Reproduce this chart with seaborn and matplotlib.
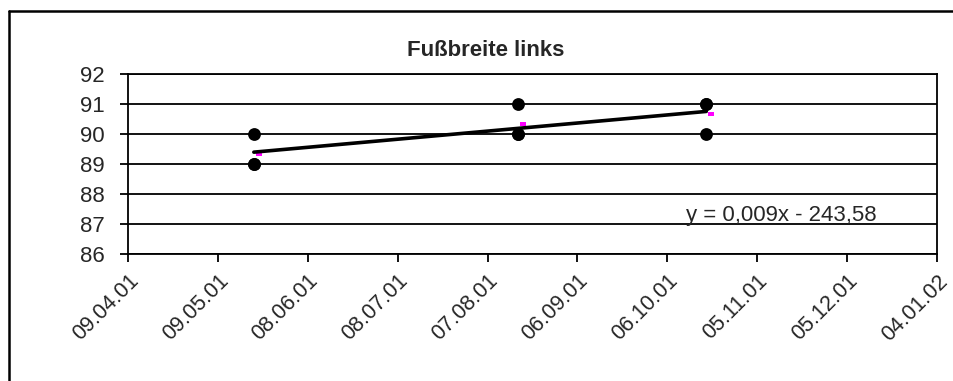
import matplotlib
matplotlib.use("Agg")
import matplotlib.pyplot as plt
import matplotlib.dates as mdates
from matplotlib.lines import Line2D
import numpy as np
import pandas as pd
import seaborn as sns

# ---- data ----
title = "Fußbreite links"
measure_dates = ["2001-05-21", "2001-05-21", "2001-05-21",
                 "2001-08-17", "2001-08-17", "2001-08-17",
                 "2001-10-19", "2001-10-19", "2001-10-19"]
values = [90, 89, 89, 91, 90, 90, 91, 91, 90]
tick_dates = ["2001-04-09", "2001-05-09", "2001-06-08", "2001-07-08", "2001-08-07",
              "2001-09-06", "2001-10-06", "2001-11-05", "2001-12-05", "2002-01-04"]
tick_labels = ["09.04.01", "09.05.01", "08.06.01", "08.07.01", "07.08.01",
               "06.09.01", "06.10.01", "05.11.01", "05.12.01", "04.01.02"]
y_ticks = [86, 87, 88, 89, 90, 91, 92]
equation = "y = 0,009x - 243,58"

sns.set_theme(style="white")
plt.rcParams["font.family"] = ["Liberation Sans", "DejaVu Sans"]

df = pd.DataFrame({"date": pd.to_datetime(measure_dates), "value": values})
df["x"] = mdates.date2num(df["date"])
means = df.groupby("x", as_index=False)["value"].mean()
tick_x = mdates.date2num(pd.to_datetime(tick_dates))

W, H = 954, 381
fig = plt.figure(figsize=(W / 100, H / 100), dpi=100)
fig.patch.set_facecolor("white")

# outer chart border (left and top visible)
fig.add_artist(Line2D([9 / W, 9 / W], [0, 1 - 11 / H], color="black", lw=1.8,
                      transform=fig.transFigure))
fig.add_artist(Line2D([9 / W, 1], [1 - 11 / H, 1 - 11 / H], color="black", lw=1.8,
                      transform=fig.transFigure))

ax = fig.add_axes([128 / W, 1 - 254 / H, (937 - 128) / W, (254 - 74) / H])
ax.set_facecolor("white")

sns.regplot(data=df, x="x", y="value", scatter=False, ci=None, truncate=True,
            color="black", line_kws={"lw": 2.6, "zorder": 3}, ax=ax)
sns.scatterplot(data=df, x="x", y="value", color="black", s=85, linewidth=0,
                zorder=4, ax=ax)
mark = [(0.2, -0.28), (1.0, -0.28), (1.0, 0.28), (0.2, 0.28), (0.2, -0.28)]
sns.scatterplot(data=means, x="x", y="value", color="#ff00ff", marker=mark, s=130,
                linewidth=0, zorder=2, ax=ax)

ax.set_xlim(tick_x[0], tick_x[-1])
ax.set_ylim(y_ticks[0], y_ticks[-1])
ax.set_xticks(tick_x)
ax.set_xticklabels(tick_labels, rotation=45, ha="right", rotation_mode="anchor",
                   fontsize=15.5)
ax.set_yticks(y_ticks)
ax.set_yticklabels([str(v) for v in y_ticks], fontsize=16)
ax.set_xlabel("")
ax.set_ylabel("")
ax.grid(axis="y", color="black", lw=1.3)
ax.set_axisbelow(True)
ax.tick_params(axis="both", direction="out", length=6, width=1.3, color="black",
               left=True, bottom=True)
ax.tick_params(axis="y", pad=11)
ax.tick_params(axis="x", pad=6)
for side in ["left", "bottom", "right", "top"]:
    ax.spines[side].set_visible(True)
    ax.spines[side].set_color("black")
    ax.spines[side].set_linewidth(1.3)

ax.text(0.807, 0.215, equation, transform=ax.transAxes, ha="center", va="center",
        fontsize=16)
fig.text(486 / W, 1 - 50 / H, title, ha="center", va="center", fontsize=16,
         fontweight="bold")

fig.savefig("out.png", dpi=100, facecolor="white")
